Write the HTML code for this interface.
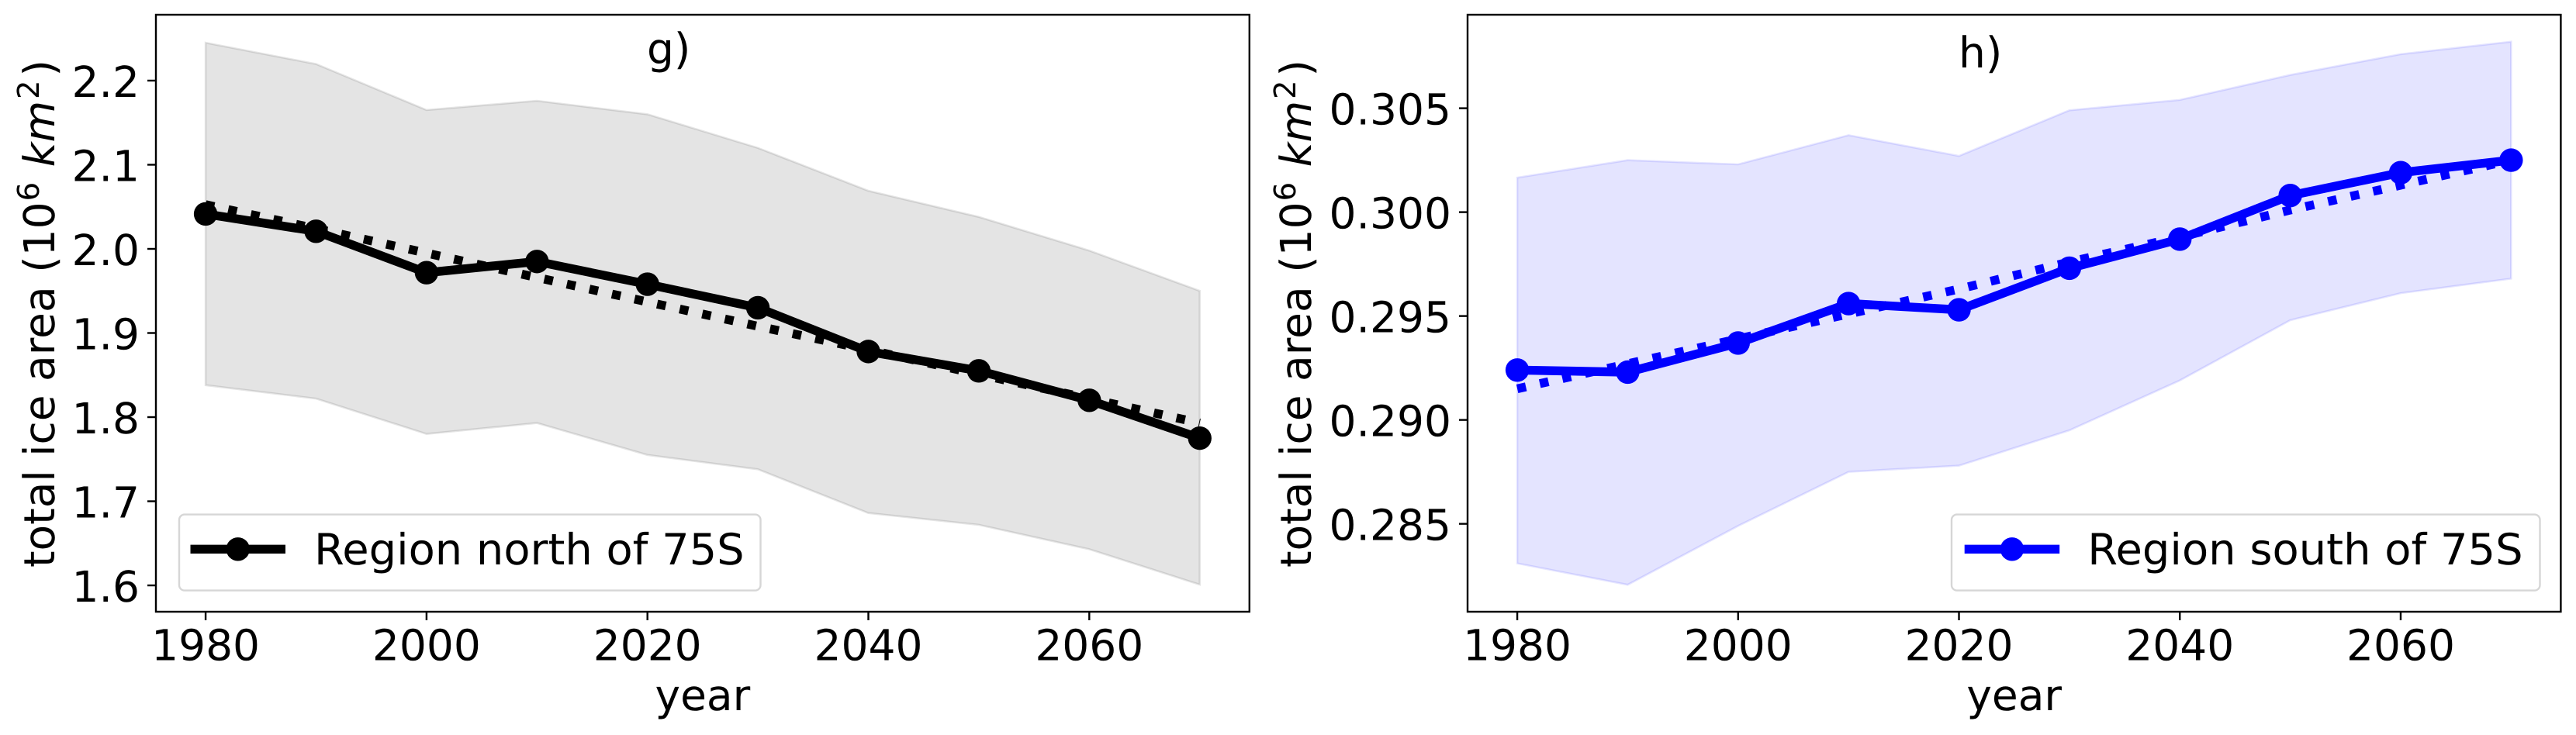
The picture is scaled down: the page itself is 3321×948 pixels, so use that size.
<!DOCTYPE html>
<html lang="en">
<head>
<meta charset="utf-8">
<title>Total ice area north and south of 75S</title>
<style>
html,body{margin:0;padding:0;background:#fff;width:3321px;height:948px;overflow:hidden}
svg{display:block}
text{font-family:"DejaVu Sans","Liberation Sans",sans-serif;fill:#000;text-rendering:geometricPrecision}
</style>
</head>
<body>
<svg id="chart" xmlns="http://www.w3.org/2000/svg" width="3321" height="948" viewBox="0 0 3321 948"></svg>
<script>
const years = [1980, 1990, 2000, 2010, 2020, 2030, 2040, 2050, 2060, 2070];
const xTicks = [1980, 2000, 2020, 2040, 2060];

const northMean = [2.0415, 2.0209, 1.9717, 1.985, 1.958, 1.93, 1.878, 1.855, 1.82, 1.775];
const northTrend = [2.0525, 2.024, 1.995, 1.966, 1.937, 1.908, 1.88, 1.851, 1.822, 1.793];
const northUpper = [2.245, 2.2197, 2.165, 2.176, 2.16, 2.12, 2.069, 2.038, 1.998, 1.95];
const northLower = [1.838, 1.822, 1.78, 1.793, 1.755, 1.738, 1.686, 1.672, 1.643, 1.601];
const northYTicks = [1.6, 1.7, 1.8, 1.9, 2.0, 2.1, 2.2];
const northYLabels = ["1.6", "1.7", "1.8", "1.9", "2.0", "2.1", "2.2"];
const northYDomain = [1.5687, 2.2783];

const southMean = [0.2924, 0.2923, 0.2937, 0.2956, 0.2953, 0.2973, 0.2987, 0.3008, 0.3019, 0.3025];
const southTrend = [0.2915, 0.2927, 0.2939, 0.2951, 0.2963, 0.2976, 0.2988, 0.3001, 0.3013, 0.3025];
const southUpper = [0.30166, 0.3025, 0.3023, 0.3037, 0.3027, 0.3049, 0.3054, 0.3066, 0.3076, 0.3082];
const southLower = [0.2831, 0.28207, 0.2849, 0.2875, 0.2878, 0.2895, 0.2919, 0.2948, 0.2961, 0.2968];
const southYTicks = [0.285, 0.29, 0.295, 0.3, 0.305];
const southYLabels = ["0.285", "0.290", "0.295", "0.300", "0.305"];
const southYDomain = [0.28077, 0.3095];

const FONT = 55;
const SUP = 38.5;
const PLOT_TOP = 19;
const PLOT_BOTTOM = 789;
const svg = document.getElementById('chart');
const NS = 'http://www.w3.org/2000/svg';

function make(tag, attrs, parent) {
  const el = document.createElementNS(NS, tag);
  for (const k in attrs) el.setAttribute(k, attrs[k]);
  parent.appendChild(el);
  return el;
}

function drawPanel(p) {
  const left = p.left, right = p.right;
  const x0 = left + (right - left) / 22;
  const x1 = right - (right - left) / 22;
  const xScale = v => x0 + (v - years[0]) / (years[years.length - 1] - years[0]) * (x1 - x0);
  const yScale = v => PLOT_BOTTOM - (v - p.yDomain[0]) / (p.yDomain[1] - p.yDomain[0]) * (PLOT_BOTTOM - PLOT_TOP);

  const g = make('g', {}, svg);
  
  

  // shaded range band
  const upperPts = years.map((y, i) => xScale(y).toFixed(1) + ',' + yScale(p.upper[i]).toFixed(1));
  const lowerPts = years.map((y, i) => xScale(y).toFixed(1) + ',' + yScale(p.lower[i]).toFixed(1)).reverse();
  const band = make('polygon', {
    points: upperPts.concat(lowerPts).join(' '),
    fill: p.color, 'fill-opacity': 0.105,
    stroke: p.color, 'stroke-opacity': 0.1, 'stroke-width': 2.6
  }, g);
  
  

  // dotted trend line
  const trendPts = years.map((y, i) => xScale(y).toFixed(1) + ',' + yScale(p.trend[i]).toFixed(1)).join(' ');
  const trend = make('polyline', {
    points: trendPts, fill: 'none', stroke: p.color,
    'stroke-width': 11.4, 'stroke-dasharray': '11.4 18.4'
  }, g);
  
  

  // mean line
  const meanPts = years.map((y, i) => xScale(y).toFixed(1) + ',' + yScale(p.mean[i]).toFixed(1)).join(' ');
  const line = make('polyline', {
    points: meanPts, fill: 'none', stroke: p.color,
    'stroke-width': 11.4, 'stroke-linejoin': 'round'
  }, g);
  
  

  years.forEach((y, i) => {
    const pt = make('circle', { cx: xScale(y), cy: yScale(p.mean[i]), r: 15.2, fill: p.color }, g);
    
    
  });

  // x ticks
  xTicks.forEach(t => {
    const x = xScale(t);
    const tick = make('line', { x1: x, x2: x, y1: PLOT_BOTTOM, y2: PLOT_BOTTOM + 11, stroke: '#000', 'stroke-width': 2.4 }, g);
    
    
    const lab = make('text', { x: x, y: 851.5, 'text-anchor': 'middle', 'font-size': FONT }, g);
    lab.textContent = String(t);
    
    
  });

  // y ticks
  p.yTicks.forEach((t, i) => {
    const y = yScale(t);
    const tick = make('line', { x1: left - 11, x2: left, y1: y, y2: y, stroke: '#000', 'stroke-width': 2.4 }, g);
    
    
    const lab = make('text', { x: left - 21, y: y + 21, 'text-anchor': 'end', 'font-size': FONT }, g);
    lab.textContent = p.yLabels[i];
    
    
  });

  // spines
  const frame = make('rect', {
    x: left, y: PLOT_TOP, width: right - left, height: PLOT_BOTTOM - PLOT_TOP,
    fill: 'none', stroke: '#000', 'stroke-width': 2.4
  }, g);
  
  

  // x axis title
  const xTitle = make('text', { x: (left + right) / 2, y: 916, 'text-anchor': 'middle', 'font-size': FONT }, g);
  xTitle.textContent = 'year';
  
  

  // y axis title
  const yTitle = make('text', {
    transform: 'translate(' + p.yTitleX + ',404.5) rotate(-90)',
    'text-anchor': 'middle', 'font-size': FONT
  }, g);
  
  
  const parts = [
    ['total ice area (10', FONT, 'normal', 0, 0],
    ['6', SUP, 'normal', -20, 1],
    ['\u00a0', FONT, 'normal', 20, 2],
    ['km', FONT, 'italic', 0, 0],
    ['2', SUP, 'normal', -20, 2],
    [')', FONT, 'normal', 20, 5]
  ];
  parts.forEach(part => {
    const ts = make('tspan', { 'font-size': part[1], 'font-style': part[2], dy: part[3], dx: part[4] }, yTitle);
    ts.textContent = part[0];
  });

  // panel letter
  const letter = make('text', { x: p.letterX, y: p.letterY, 'font-size': FONT }, g);
  letter.textContent = p.letter;
  
  

  // legend
  const legend = make('g', {}, g);
  
  
  const box = make('rect', {
    x: p.legendLeft, y: 663.6, width: p.legendRight - p.legendLeft, height: 98, rx: 7, ry: 7,
    fill: '#fff', 'fill-opacity': 0.8, stroke: '#d6d6d6', 'stroke-width': 2.4
  }, legend);
  
  
  const handle = make('line', {
    x1: p.handleX, x2: p.handleX + 122.5, y1: 708.3, y2: 708.3, stroke: p.color, 'stroke-width': 11.4
  }, legend);
  
  
  const dot = make('circle', { cx: p.handleX + 61.25, cy: 708.3, r: 15.2, fill: p.color }, legend);
  
  
  const txt = make('text', {
    x: p.legendTextX, y: 728, 'font-size': 55.5,
    textLength: p.legendTextWidth, lengthAdjust: 'spacingAndGlyphs'
  }, legend);
  txt.textContent = p.legendText;
  
  
}

drawPanel({
  id: 'north', left: 201, right: 1610.8, color: '#000000',
  mean: northMean, trend: northTrend, upper: northUpper, lower: northLower,
  yTicks: northYTicks, yLabels: northYLabels, yDomain: northYDomain,
  yTitleX: 70, letter: 'g)', letterX: 834, letterY: 82,
  legendLeft: 231, legendRight: 980.5, handleX: 245.5, legendTextX: 405, legendTextWidth: 554.6, legendText: 'Region north of 75S'
});

drawPanel({
  id: 'south', left: 1892, right: 3301.4, color: '#0000ff',
  mean: southMean, trend: southTrend, upper: southUpper, lower: southLower,
  yTicks: southYTicks, yLabels: southYLabels, yDomain: southYDomain,
  yTitleX: 1690, letter: 'h)', letterX: 2525, letterY: 87,
  legendLeft: 2516, legendRight: 3274.5, handleX: 2532.7, legendTextX: 2691.2, legendTextWidth: 561.4, legendText: 'Region south of 75S'
});
</script>
</body>
</html>
